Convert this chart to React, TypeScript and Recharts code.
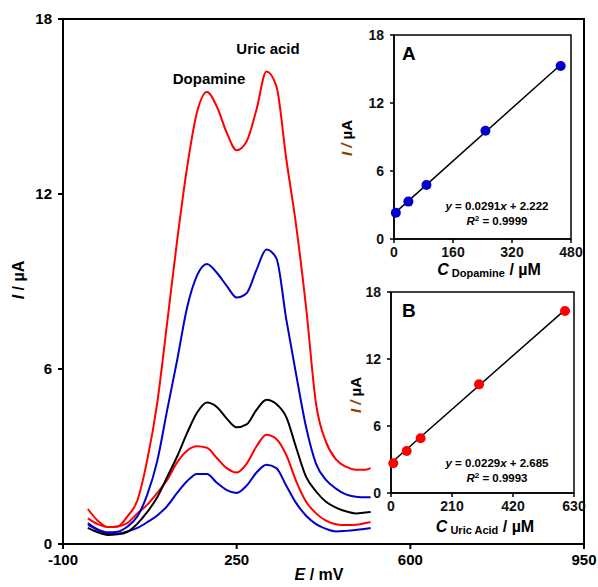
import {
  LineChart,
  Line,
  XAxis,
  YAxis,
  ReferenceArea,
  Label,
  ComposedChart,
  Scatter,
} from 'recharts';

const FONT = '"Liberation Sans", Arial, sans-serif';

// main DPV curves, E in mV, I in µA
const potentials = [
  -50, -30, -10, 10, 30, 50, 70, 90, 110, 130, 150, 170, 190, 210, 230, 250, 270, 290, 310, 330,
  350, 370, 390, 410, 430, 450, 470, 490, 510, 520,
];
const redTop = [
  1.2, 0.8, 0.58, 0.6, 0.95, 1.5, 2.9, 4.85, 7.6, 10.4, 12.9, 14.8, 15.5, 15.0, 14.1, 13.5, 13.8,
  14.9, 16.2, 15.7, 13.2, 10.9, 8.1, 4.8, 3.5, 2.9, 2.65, 2.55, 2.55, 2.6,
];
const blueTop = [
  0.72, 0.5, 0.4, 0.42, 0.6, 0.95, 1.7, 2.85, 4.6, 6.3, 8.1, 9.2, 9.6, 9.3, 8.85, 8.45, 8.6, 9.4,
  10.1, 9.8, 7.7, 5.8, 4.0, 2.75, 2.2, 1.9, 1.7, 1.62, 1.6, 1.6,
];
const blackMid = [
  0.55, 0.4, 0.31, 0.33, 0.42, 0.7, 1.1, 1.6, 2.3, 3.0, 3.8, 4.5, 4.85, 4.7, 4.3, 4.0, 4.1, 4.6,
  4.95, 4.8, 4.35, 3.3, 2.3, 1.8, 1.45, 1.25, 1.12, 1.05, 1.08, 1.1,
];
const redLow = [
  0.88, 0.68, 0.58, 0.6, 0.72, 1.05, 1.35, 1.75, 2.2, 2.8, 3.2, 3.35, 3.3, 2.95, 2.6, 2.45, 2.75,
  3.35, 3.75, 3.6, 3.05, 2.15, 1.45, 1.05, 0.8, 0.68, 0.65, 0.66, 0.72, 0.75,
];
const blueLow = [
  0.66, 0.48, 0.36, 0.36, 0.43, 0.55, 0.75, 0.98, 1.3, 1.75, 2.15, 2.4, 2.4, 2.1, 1.85, 1.75, 2.0,
  2.45, 2.72, 2.6, 2.0, 1.4, 0.97, 0.68, 0.52, 0.43, 0.45, 0.48, 0.52, 0.55,
];
const mainXTicks = [-100, 250, 600, 950];
const mainYTicks = [0, 6, 12, 18];

// inset A: dopamine calibration
const dopConc = [5, 39, 88, 248, 452];
const dopCurrent = [2.32, 3.3, 4.77, 9.55, 15.27];
const dopSlope = 0.0291;
const dopIntercept = 2.222;
const dopXTicks = [0, 160, 320, 480];

// inset B: uric acid calibration
const uaConc = [8, 54, 102, 303, 599];
const uaCurrent = [2.66, 3.76, 4.9, 9.73, 16.3];
const uaSlope = 0.0229;
const uaIntercept = 2.685;
const uaXTicks = [0, 210, 420, 630];
const insetYTicks = [0, 6, 12, 18];

const mainRows = potentials.map((e, i) => ({
  e,
  r1: redTop[i],
  b1: blueTop[i],
  k: blackMid[i],
  r2: redLow[i],
  b2: blueLow[i],
}));

const dopPoints = dopConc.map((x, i) => ({ x, y: dopCurrent[i] }));
const dopTrend = [dopConc[0], dopConc[dopConc.length - 1]].map((x) => ({
  x,
  y: dopSlope * x + dopIntercept,
}));
const uaPoints = uaConc.map((x, i) => ({ x, y: uaCurrent[i] }));
const uaTrend = [uaConc[0], uaConc[uaConc.length - 1]].map((x) => ({
  x,
  y: uaSlope * x + uaIntercept,
}));

const mainTick = { fontSize: 15, fontWeight: 'bold', fill: '#000', fontFamily: FONT };
const insetTick = { fontSize: 14, fontWeight: 'bold', fill: '#111', fontFamily: FONT };

const mainTitles = () => (
  <g fontFamily={FONT} fontWeight="bold" fill="#000">
    <text x={209} y={84} fontSize={15} textAnchor="middle">
      Dopamine
    </text>
    <text x={268} y={54} fontSize={15} textAnchor="middle">
      Uric acid
    </text>
    <text x={319} y={580} fontSize={16} textAnchor="middle">
      <tspan fontStyle="italic">E</tspan> / mV
    </text>
    <text transform="translate(24,280) rotate(-90)" fontSize={16} textAnchor="middle">
      <tspan fontStyle="italic">I</tspan> / µA
    </text>
  </g>
);

function insetTitles(
  letter: string,
  sub: string,
  slope: number,
  intercept: number,
  r2: string,
  xc: number,
  yx: number,
) {
  return () => (
    <g fontFamily={FONT} fontWeight="bold" fill="#000">
      <text x={72} y={40} fontSize={19}>
        {letter}
      </text>
      <text x={167} y={190} fontSize={11.5} textAnchor="middle">
        <tspan fontStyle="italic">y</tspan> = {slope}
        <tspan fontStyle="italic">x</tspan> + {intercept.toFixed(3)}
      </text>
      <text x={167} y={205} fontSize={11.5} textAnchor="middle">
        <tspan fontStyle="italic">R</tspan>
        <tspan fontSize={8} dy={-4}>
          2
        </tspan>
        <tspan dy={4}> = {r2}</tspan>
      </text>
      <text x={xc} y={255} fontSize={16} textAnchor="middle">
        <tspan fontStyle="italic">C</tspan>
        <tspan fontSize={11} dy={2}>
          {' ' + sub}
        </tspan>
        <tspan dy={-2}> / µM</tspan>
      </text>
      <text transform={`translate(${yx},118) rotate(-90)`} fontSize={15} textAnchor="middle">
        <tspan fontStyle="italic" fill="#8a4200">
          I /
        </tspan>{' '}
        µA
      </text>
    </g>
  );
}

function Inset({
  points,
  trend,
  color,
  xTicks,
  titles,
  margin,
}: {
  points: { x: number; y: number }[];
  trend: { x: number; y: number }[];
  color: string;
  xTicks: number[];
  titles: () => any;
  margin: { top: number; right: number; bottom: number; left: number };
}) {
  const xMax = xTicks[xTicks.length - 1];
  return (
    <ComposedChart width={260} height={270} margin={margin}>
      <ReferenceArea x1={0} x2={xMax} y1={0} y2={18} fill="none" stroke="#000" strokeWidth={1.5} />
      <XAxis
        type="number"
        dataKey="x"
        domain={[0, xMax]}
        ticks={xTicks}
        interval={0}
        height={25}
        tickSize={4}
        tickMargin={4}
        tick={insetTick}
        stroke="#000"
        strokeWidth={1.5}
      >
        <Label content={titles} />
      </XAxis>
      <YAxis
        type="number"
        dataKey="y"
        domain={[0, 18]}
        ticks={insetYTicks}
        interval={0}
        width={30}
        tickSize={4}
        tickMargin={6}
        tick={insetTick}
        stroke="#000"
        strokeWidth={1.5}
      />
      <Line
        data={trend}
        dataKey="y"
        stroke="#000"
        strokeWidth={1.5}
        dot={false}
        isAnimationActive={false}
      />
      <Scatter
        data={points}
        fill={color}
        isAnimationActive={false}
        shape={(p: any) => <circle cx={p.cx} cy={p.cy} r={5} fill={color} />}
      />
    </ComposedChart>
  );
}

export default function App() {
  return (
    <div style={{ position: 'absolute', left: 0, top: 0, width: 598, height: 587, background: '#fff' }}>
      <div style={{ position: 'absolute', left: 0, top: 0 }}>
        <LineChart width={598} height={587} data={mainRows} margin={{ top: 19, right: 14, bottom: 13, left: 33 }}>
          <ReferenceArea x1={-100} x2={950} y1={0} y2={18} fill="none" stroke="#000" strokeWidth={2} />
          <XAxis
            type="number"
            dataKey="e"
            domain={[-100, 950]}
            ticks={mainXTicks}
            interval={0}
            height={30}
            tickSize={5}
            tickMargin={5}
            tick={mainTick}
            stroke="#000"
            strokeWidth={2}
          >
            <Label content={mainTitles} />
          </XAxis>
          <YAxis
            type="number"
            domain={[0, 18]}
            ticks={mainYTicks}
            interval={0}
            width={30}
            tickSize={5}
            tickMargin={6}
            tick={mainTick}
            stroke="#000"
            strokeWidth={2}
          />
          <Line type="monotone" dataKey="b2" stroke="#0000cc" strokeWidth={2} dot={false} isAnimationActive={false} />
          <Line type="monotone" dataKey="r2" stroke="#ff0000" strokeWidth={2} dot={false} isAnimationActive={false} />
          <Line type="monotone" dataKey="k" stroke="#000" strokeWidth={2} dot={false} isAnimationActive={false} />
          <Line type="monotone" dataKey="b1" stroke="#0000cc" strokeWidth={2} dot={false} isAnimationActive={false} />
          <Line type="monotone" dataKey="r1" stroke="#ff0000" strokeWidth={2} dot={false} isAnimationActive={false} />
        </LineChart>
      </div>
      <div style={{ position: 'absolute', left: 330, top: 20 }}>
        <Inset
          points={dopPoints}
          trend={dopTrend}
          color="#0000cc"
          xTicks={dopXTicks}
          titles={insetTitles('A', 'Dopamine', dopSlope, dopIntercept, '0.9999', 159, 22)}
          margin={{ top: 15, right: 19, bottom: 26, left: 34 }}
        />
      </div>
      <div style={{ position: 'absolute', left: 330, top: 277 }}>
        <Inset
          points={uaPoints}
          trend={uaTrend}
          color="#ff0000"
          xTicks={uaXTicks}
          titles={insetTitles('B', 'Uric Acid', uaSlope, uaIntercept, '0.9993', 155, 31)}
          margin={{ top: 15, right: 16, bottom: 29, left: 31 }}
        />
      </div>
    </div>
  );
}
